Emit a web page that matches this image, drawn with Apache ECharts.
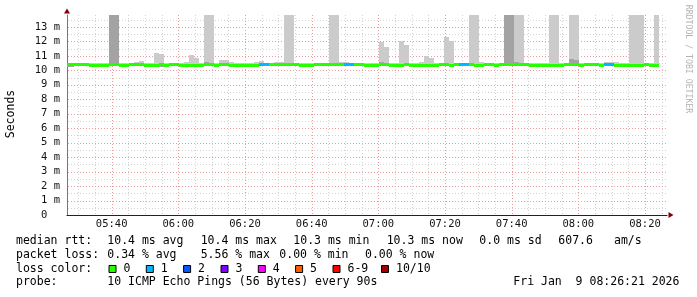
<!DOCTYPE html>
<html><head><meta charset="utf-8">
<script src="https://cdn.jsdelivr.net/npm/echarts@6/dist/echarts.min.js"></script>
<style>html,body{margin:0;padding:0;background:#fff}#c{width:697px;height:297px}</style>
</head><body><div id="c"></div>
<script>
// ---- data ----
const stepStart = '05:25:42';     // start of first 90 s step
const stepSeconds = 90;
const axisStart = '05:26:36';
const axisEnd = '08:26:36';
const xTickLabels = ['05:40','06:00','06:20','06:40','07:00','07:20','07:40','08:00','08:20'];
const yTickValues = [0,1,2,3,4,5,6,7,8,9,10,11,12,13];
const yMax = 13.82;

// median rtt per step (ms)
const medianRtt = [
 10.42,10.42,10.42,10.41,10.42,10.33,10.33,10.34,10.33,10.42,
 10.42,10.33,10.33,10.42,10.42,10.42,10.33,10.33,10.33,10.42,
 10.33,10.42,10.42,10.33,10.33,10.34,10.33,10.33,10.42,10.42,
 10.33,10.42,10.42,10.34,10.33,10.33,10.33,10.34,10.33,10.42,
 10.42,10.42,10.42,10.41,10.42,10.42,10.42,10.33,10.33,10.32,
 10.42,10.42,10.42,10.42,10.41,10.42,10.42,10.42,10.42,10.42,
 10.33,10.33,10.33,10.42,10.42,10.33,10.33,10.33,10.42,10.33,
 10.33,10.33,10.33,10.34,10.33,10.42,10.42,10.33,10.42,10.42,
 10.42,10.42,10.33,10.33,10.42,10.42,10.33,10.42,10.42,10.42,
 10.42,10.42,10.42,10.33,10.33,10.33,10.33,10.33,10.33,10.33,
 10.42,10.42,10.42,10.33,10.42,10.42,10.42,10.33,10.42,10.42,
 10.33,10.33,10.33,10.33,10.33,10.33,10.42,10.33,10.33
];
// lost pings (of 10) per step
const lossCount = [
 0,0,0,0,0,0,0,0,0,0,
 0,0,0,0,0,0,0,0,0,0,
 0,0,0,0,0,0,0,0,0,0,
 0,0,0,0,0,0,0,0,0,1,
 1,0,0,0,0,0,0,0,0,0,
 0,0,0,0,0,0,1,1,0,0,
 0,0,0,0,0,0,0,0,0,0,
 0,0,0,0,0,0,0,0,0,1,
 1,0,0,0,0,0,0,0,0,0,
 0,0,0,0,0,0,0,0,0,0,
 0,0,0,0,0,0,0,0,1,1,
 0,0,0,0,0,0,0,0,0
];
// smoke: lowest ping, top of dense core, highest ping (ms)
const smokeLow = [
 10.24,10.25,10.28,10.28,10.28,10.28,10.28,10.28,10.28,10.28,
 10.28,10.28,10.28,10.28,10.28,10.28,10.28,10.28,10.28,10.24,
 10.28,10.28,10.28,10.28,10.28,10.28,10.28,10.28,10.28,10.28,
 10.28,10.28,10.28,10.28,10.28,10.28,10.28,10.28,10.28,10.28,
 10.28,10.28,10.28,10.28,10.28,10.28,10.28,10.24,10.24,10.28,
 10.28,10.28,10.28,10.28,10.28,10.28,10.28,10.28,10.28,10.28,
 10.28,10.28,10.28,10.28,10.28,10.28,10.28,10.28,10.28,10.28,
 10.28,10.28,10.28,10.28,10.28,10.28,10.28,10.28,10.28,10.28,
 10.28,10.28,10.28,10.28,10.28,10.28,10.28,10.28,10.28,10.28,
 10.28,10.28,10.28,10.28,10.28,10.28,10.28,10.28,10.28,10.28,
 10.28,10.28,10.28,10.28,10.28,10.28,10.28,10.28,10.28,10.28,
 10.28,10.28,10.28,10.28,10.28,10.28,10.28,10.28,10.28
];
const smokeCore = [
 10.28,10.28,10.28,10.28,10.28,10.28,10.28,10.28,10.28,14,
 14,10.28,10.28,10.28,10.28,10.28,10.28,10.28,10.28,10.28,
 10.28,10.28,10.28,10.28,10.28,10.28,10.28,10.28,10.55,10.28,
 10.28,10.28,10.28,10.28,10.28,10.28,10.28,10.28,10.28,10.28,
 10.28,10.28,10.28,10.28,10.28,10.28,10.28,10.28,10.28,10.28,
 10.53,10.28,10.28,10.28,10.28,10.28,10.28,10.28,10.28,10.28,
 10.28,10.28,10.28,10.6,10.28,10.28,10.28,10.28,10.28,10.28,
 10.28,10.28,10.28,10.28,10.28,10.28,10.28,10.28,10.28,10.28,
 10.28,10.28,10.28,10.28,10.28,10.52,10.28,10.28,14,14,
 10.55,10.28,10.28,10.28,10.28,10.28,10.28,10.28,10.28,10.28,
 10.28,10.79,10.7,10.28,10.28,10.28,10.28,10.28,10.28,10.28,
 10.28,10.28,10.28,10.28,10.28,10.28,10.28,10.28,10.28
];
const smokeHigh = [
 10.48,10.48,10.48,10.48,10.48,10.48,10.48,10.48,10.48,14,
 14,10.48,10.48,10.48,10.57,10.64,10.48,10.48,11.22,11.13,
 10.48,10.52,10.48,10.48,10.58,11.07,10.86,10.48,14,14,
 10.48,10.73,10.73,10.58,10.52,10.48,10.48,10.48,10.58,10.65,
 10.52,10.48,10.58,10.58,14,14,10.48,10.48,10.48,10.48,
 10.53,10.48,10.52,14,14,10.6,10.58,10.48,10.48,10.48,
 10.48,10.48,10.48,11.98,11.62,10.48,10.48,12.04,11.76,10.48,
 10.48,10.58,11.0,10.86,10.48,10.48,12.27,12.0,10.48,10.48,
 10.48,14,14,10.57,10.48,10.52,10.48,10.48,14,14,
 14,14,10.52,10.48,10.48,10.48,10.48,14,14,10.48,
 10.48,14,14,10.48,10.48,10.48,10.48,10.48,10.55,10.6,
 10.58,10.48,10.48,14,14,14,10.48,10.48,14
];
const lossLegend = ['0','1','2','3','4','5','6-9','10/10'];
const lossPalette = ['#26ff00','#00b8ff','#0059ff','#7e00ff','#ff00ff','#ff5e00','#ff0000','#a10000'];
const statsRtt = ['10.4 ms avg','10.4 ms max','10.3 ms min','10.3 ms now','0.0 ms sd','607.6','am/s'];
const statsLoss = ['0.34 % avg','5.56 % max','0.00 % min','0.00 % now'];
const probeText = '10 ICMP Echo Pings (56 Bytes) every 90s';
const dateText = 'Fri Jan  9 08:26:21 2026';

// ---- helpers ----
function toMin(s){const p=s.split(':').map(Number);return p[0]*60+p[1]+(p[2]||0)/60;}
function fmt(m){const h=Math.floor(m/60),mm=Math.round(m-h*60);return String(h).padStart(2,'0')+':'+String(mm).padStart(2,'0');}
const stepMin = stepSeconds/60;
const t0 = toMin(stepStart);
const xMin = toMin(axisStart), xMax = toMin(axisEnd);
const times = medianRtt.map((_,i)=>t0+i*stepMin);
function lossColor(n){ if(n<=5) return lossPalette[n]; if(n<10) return lossPalette[6]; return lossPalette[7]; }

const majorX = xTickLabels.map(toMin);
const minorX = [];
for(let m=Math.ceil(xMin/5)*5;m<=xMax;m+=5){ if(majorX.indexOf(m)<0) minorX.push(m); }
const majorY = yTickValues.filter(v=>v>0);
const minorY = yTickValues.map(v=>v+0.5).filter(v=>v<yMax);

// grid line items: [orientation 0=vertical/1=horizontal, value, major flag]
const gridItems = []
  .concat(minorY.map(v=>[1, v, 0]))
  .concat(minorX.map(v=>[0, v, 0]))
  .concat(majorY.map(v=>[1, v, 1]))
  .concat(majorX.map(v=>[0, v, 1]));

const FONT = '"DejaVu Sans Mono", monospace';

function clampX(cs, x){ return Math.min(Math.max(Math.round(x), cs.x), cs.x+cs.width); }

function gridItem(params, api){
  const cs = params.coordSys;
  const dir = api.value(0), v = api.value(1), major = api.value(2);
  const style = {stroke: major ? '#eb9c9c' : '#d2d2d2', lineWidth:1, lineDash:[1,2]};
  if (dir === 1) {
    const y = Math.round(api.coord([xMin, v])[1]) + 0.5;
    return {type:'line', shape:{x1:cs.x+1, y1:y, x2:cs.x+cs.width, y2:y}, style};
  }
  const x = Math.round(api.coord([v, 0])[0]) + 0.5;
  return {type:'line', shape:{x1:x, y1:cs.y, x2:x, y2:cs.y+cs.height}, style};
}
function smokeItem(params, api){
  const cs = params.coordSys;
  const t = api.value(0), lo = api.value(1), core = api.value(2), hi = api.value(3);
  const xa = clampX(cs, api.coord([t, lo])[0]);
  const xb = clampX(cs, api.coord([t+stepMin, lo])[0]);
  if (xb <= xa) return null;
  const yLo = Math.round(api.coord([t, lo])[1]);
  const yHi = Math.max(Math.round(api.coord([t, Math.min(hi, yMax)])[1]), cs.y);
  const yCore = Math.max(Math.round(api.coord([t, Math.min(core, yMax)])[1]), cs.y);
  const children = [{type:'rect', shape:{x:xa, y:yHi, width:xb-xa, height:yLo-yHi}, style:{fill:'#cbcbcb'}}];
  if (core > lo) children.push({type:'rect', shape:{x:xa, y:yCore, width:xb-xa, height:yLo-yCore}, style:{fill:'#a3a3a3'}});
  return {type:'group', children};
}
function medianItem(params, api){
  const cs = params.coordSys;
  const t = api.value(0), m = api.value(1), loss = api.value(2);
  const xa = clampX(cs, api.coord([t, m])[0]);
  const xb = clampX(cs, api.coord([t+stepMin, m])[0]);
  if (xb <= xa) return null;
  const y = Math.round(api.coord([t, m])[1] - 1.5);
  return {type:'rect', shape:{x:xa, y:y, width:xb-xa, height:3}, style:{fill:lossColor(loss)}};
}

// ---- legend / text graphics ----
const graphics = [];
function txt(x, y, s, extra){
  graphics.push(Object.assign({type:'text', x:x, y:y, silent:true,
    style:{text:s, font:'11.5px '+FONT, fill:'#000', align:'left', verticalAlign:'middle'}}, extra||{}));
}
const L1 = 241, L2 = 254.7, L3 = 268.7, L4 = 282.2;
txt(16, L1, 'median rtt:');
[107.3,200.7,293.3,386.7,479.3,558.3,614].forEach((x,i)=>txt(x, L1, statsRtt[i]));
txt(16, L2, 'packet loss:');
[107.3,200.7,279.3,365].forEach((x,i)=>txt(x, L2, statsLoss[i]));
txt(16, L3, 'loss color:');
const swX = [109,146.3,183.6,221,258.3,295.6,333,381.5];
lossLegend.forEach((lab,i)=>{
  graphics.push({type:'rect', silent:true, shape:{x:swX[i], y:265.5, width:7, height:7},
    style:{fill:lossPalette[i], stroke:'#000', lineWidth:1}});
  txt(swX[i]+14.5, L3, lab);
});
txt(16, L4, 'probe:');
txt(107.3, L4, probeText);
txt(513.3, L4, dateText);
graphics.push({type:'text', x:11, y:114, rotation:Math.PI/2, silent:true,
  style:{text:'Seconds', font:'11.5px '+FONT, fill:'#000', align:'center', verticalAlign:'middle'}});
graphics.push({type:'text', x:688, y:59, rotation:-Math.PI/2, silent:true,
  style:{text:'RRDTOOL / TOBI OETIKER', font:'8.2px '+FONT, fill:'#b4b4b4', align:'center', verticalAlign:'middle'}});

const chart = echarts.init(document.getElementById('c'), null, {renderer:'canvas'});
chart.setOption({
  animation:false,
  backgroundColor:'#ffffff',
  grid:{left:67, top:15, width:600, height:200},
  xAxis:{type:'value', min:xMin, max:xMax,
    axisLine:{show:true, lineStyle:{color:'#222', width:1}},
    axisTick:{show:false},
    splitLine:{show:false},
    axisLabel:{show:true, customValues:majorX, formatter:v=>fmt(v), margin:4,
      fontFamily:FONT, fontSize:10.5, color:'#111'}},
  yAxis:{type:'value', min:0, max:yMax, interval:1,
    axisLine:{show:true, lineStyle:{color:'#777', width:1}},
    axisTick:{show:false},
    splitLine:{show:false},
    axisLabel:{showMaxLabel:false, margin:7, fontFamily:FONT, fontSize:10.5, color:'#111',
      formatter:v=> v===0 ? '0  ' : (Number.isInteger(v) ? v+' m' : '')}},
  graphic:graphics,
  series:[
    {type:'custom', z:1, silent:true, renderItem:gridItem, encode:{x:-1, y:-1},
      dimensions:['dir','value','major'], data:gridItems},
    {type:'custom', z:2, silent:true, renderItem:smokeItem, encode:{x:0, y:1},
      data: times.map((t,i)=>[t, smokeLow[i], smokeCore[i], smokeHigh[i]])},
    {type:'custom', z:3, silent:true, renderItem:medianItem, encode:{x:0, y:1},
      data: times.map((t,i)=>[t, medianRtt[i], lossCount[i]]),
      markPoint:{silent:true, label:{show:false}, itemStyle:{color:'#7f0000'}, animation:false,
        data:[
          {coord:[xMax, 0], symbol:'triangle', symbolSize:[6,5], symbolRotate:-90, symbolOffset:[4,0]},
          {coord:[xMin, yMax], symbol:'triangle', symbolSize:[6,5], symbolOffset:[0,-4]}
        ]}}
  ]
});
</script></body></html>
